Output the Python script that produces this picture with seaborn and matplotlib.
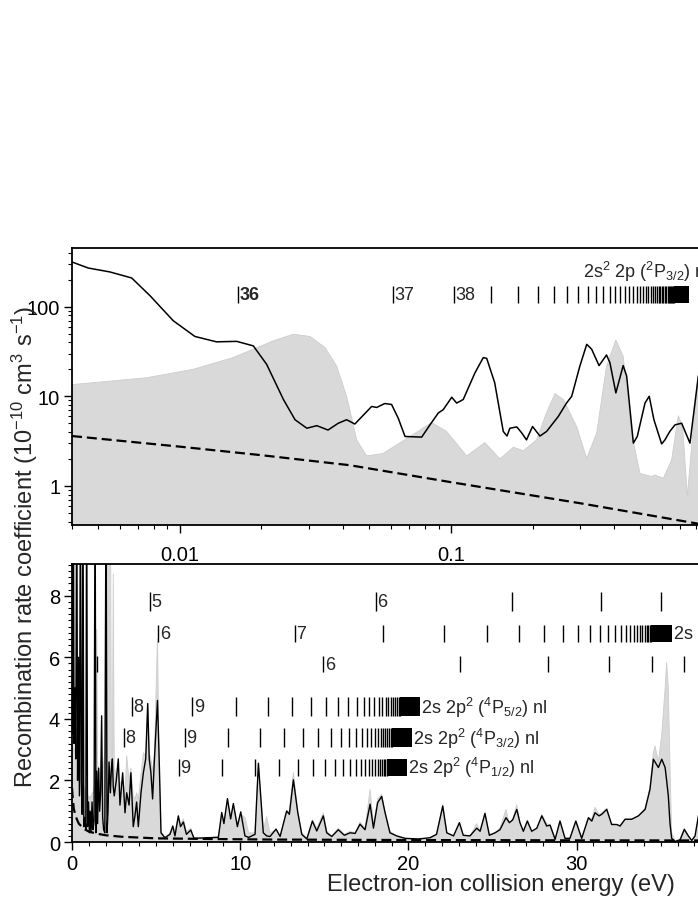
import numpy as np
import pandas as pd
import matplotlib
matplotlib.use("Agg")
import matplotlib.pyplot as plt
import seaborn as sns
from matplotlib.ticker import LogLocator, NullFormatter, MultipleLocator, FuncFormatter, FixedLocator

# ---------------- data: upper panel (log-log, low energies) ----------------
top_E = [0.0040, 0.00459, 0.00552, 0.00664, 0.00775, 0.00945, 0.01136, 0.01365, 0.0162, 0.01866,
         0.0209, 0.0241, 0.0266, 0.0294, 0.0320, 0.0352, 0.0384, 0.0412, 0.0424, 0.0442,
         0.051, 0.0532, 0.057, 0.0604, 0.0639, 0.0677, 0.078, 0.0837, 0.0898, 0.0937,
         0.1007, 0.105, 0.111, 0.1227, 0.1316, 0.1355, 0.145, 0.156, 0.161, 0.165,
         0.175, 0.1825, 0.19, 0.20, 0.213, 0.2254, 0.249, 0.267, 0.279, 0.299,
         0.317, 0.3305, 0.352, 0.375, 0.386, 0.406, 0.432, 0.445, 0.471, 0.487,
         0.52, 0.539, 0.561, 0.599, 0.616, 0.642, 0.671, 0.71, 0.762, 0.818,
         0.9, 1.2, 5.0]
top_exp = [315, 270, 244, 209, 133, 69.7, 46.5, 40.5, 41, 36.5,
           22.7, 9.2, 5.47, 4.4, 4.7, 4.2, 5.0, 5.47, 5.24, 4.9,
           7.7, 7.5, 8.3, 8.1, 5.7, 3.56, 3.5, 4.8, 6.5, 7.1,
           9.75, 8.4, 9.2, 18.3, 27, 26.5, 14.2, 4.05, 3.6, 4.4,
           4.55, 3.9, 3.26, 4.6, 3.6, 4.05, 5.96, 8.4, 10, 21.7,
           38, 33.5, 22, 28.9, 23.7, 10.9, 22, 16.8, 3.0, 3.56,
           8.4, 10, 5.47, 2.94, 3.26, 4.05, 4.8, 5.0, 3.0, 16.8,
           25, 15, 10]

top_th_E = [0.004, 0.00754, 0.0112, 0.0157, 0.0221, 0.0262, 0.0302, 0.0343, 0.0379, 0.0412,
            0.0424, 0.0449, 0.0489, 0.0562, 0.0706, 0.0849, 0.0964, 0.1143, 0.1334, 0.1517,
            0.17, 0.185, 0.207, 0.225, 0.242, 0.26, 0.291, 0.317, 0.345, 0.375,
            0.406, 0.432, 0.464, 0.498, 0.55, 0.565, 0.608, 0.652, 0.69, 0.716,
            0.745, 0.773, 0.818, 0.85, 1.0, 5.0]
top_th = [13.5, 16.1, 20, 27, 41.5, 49.3, 46.5, 35, 21.7, 10,
          7.0, 3.26, 2.16, 2.3, 3.56, 5.1, 4.05, 2.16, 3.04, 2.0,
          2.7, 2.47, 3.26, 6.5, 10.7, 9.2, 4.6, 2.03, 3.9, 21.7,
          42.6, 28, 3.9, 1.38, 1.27, 1.32, 1.22, 1.95, 6.07, 4.6,
          0.77, 2.74, 18, 25, 10, 5]

top_rr_E = [0.004, 0.01, 0.02, 0.0424, 0.1, 0.3, 0.81, 2.0, 5.0]
top_rr = [3.6, 2.74, 2.2, 1.7, 1.1, 0.64, 0.38, 0.22, 0.13]

# ---------------- data: lower panel (linear) ----------------
bot_E = [0.00, 0.04, 0.08, 0.12, 0.17, 0.22, 0.28, 0.33, 0.38, 0.44,
         0.50, 0.55, 0.60, 0.65, 0.70, 0.76, 0.82, 0.87, 0.92, 0.98,
         1.03, 1.08, 1.13, 1.19, 1.25, 1.31, 1.37, 1.42, 1.47, 1.52,
         1.58, 1.64, 1.70, 1.76, 1.82, 1.88, 1.95, 2.02, 2.08, 2.14,
         2.20, 2.28, 2.34, 2.40, 2.45, 2.51, 2.63, 2.75, 2.85, 3.01,
         3.15, 3.25, 3.39, 3.50, 3.64, 3.74, 3.84, 3.94, 4.10, 4.24,
         4.38, 4.50, 4.59, 4.69, 4.79, 4.89, 5.08, 5.18, 5.29, 5.52,
         5.82, 5.99, 6.12, 6.32, 6.45, 6.62, 6.80, 7.06, 7.25, 8.00,
         8.70, 8.90, 9.03, 9.24, 9.43, 9.59, 9.83, 10.03, 10.28, 10.50,
         10.88, 11.08, 11.37, 11.57, 11.77, 12.13, 12.37, 12.76, 12.92, 13.16,
         13.42, 13.66, 13.96, 14.29, 14.55, 14.94, 15.14, 15.44, 15.83, 16.19,
         16.53, 16.83, 17.12, 17.42, 17.72, 17.92, 18.17, 18.41, 18.60, 18.90,
         19.30, 19.80, 20.60, 21.28, 21.67, 22.04, 22.28, 22.68, 23.03, 23.26,
         23.66, 24.06, 24.26, 24.55, 24.81, 25.15, 25.44, 25.80, 26.00, 26.20,
         26.44, 26.63, 26.83, 27.07, 27.33, 27.63, 27.93, 28.22, 28.42, 28.72,
         29.01, 29.31, 29.60, 29.95, 30.30, 30.70, 30.90, 31.09, 31.33, 31.49,
         31.79, 32.08, 32.38, 32.58, 32.88, 33.27, 33.67, 34.07, 34.36, 34.56,
         34.66, 34.86, 35.06, 35.26, 35.35, 35.45, 35.55, 35.65, 35.85, 36.15,
         36.40, 36.64, 36.84, 37.04, 37.24, 37.50, 37.80, 38.50, 40.00, 45.00,
         50.00]
bot_exp = [12, 3.5, 12, 3.2, 5.0, 2.7, 12, 2.0, 6.0, 1.5,
           12, 2.0, 0.9, 12, 0.5, 0.8, 0.4, 12, 0.5, 1.3,
           0.3, 1.0, 0.3, 1.3, 0.4, 0.7, 12, 0.3, 2.3, 0.6,
           2.4, 1.0, 1.6, 4.1, 0.8, 0.4, 0.3, 12, 0.3, 1.0,
           2.6, 1.6, 2.4, 2.7, 1.8, 1.5, 2.0, 2.7, 1.2, 2.25,
           0.95, 1.6, 1.2, 2.25, 0.5, 0.85, 1.3, 0.5, 1.6, 2.25,
           2.7, 4.5, 2.7, 2.25, 1.4, 2.6, 4.6, 2.7, 0.3, 0.14,
           0.25, 0.52, 0.2, 0.85, 0.5, 0.65, 0.25, 0.39, 0.12, 0.14,
           0.15, 0.96, 0.6, 1.41, 0.75, 1.25, 0.5, 0.98, 0.2, 0.15,
           0.25, 2.56, 0.3, 0.2, 0.18, 0.42, 0.18, 1.01, 0.9, 2.02,
           0.96, 0.25, 0.1, 0.68, 0.36, 0.85, 0.3, 0.18, 0.4, 0.22,
           0.3, 0.28, 0.58, 0.4, 1.23, 0.45, 1.28, 1.48, 0.98, 0.3,
           0.2, 0.12, 0.1, 0.14, 0.25, 1.17, 0.3, 0.2, 0.63, 0.22,
           0.2, 0.45, 0.35, 0.93, 0.22, 0.3, 0.4, 0.79, 0.63, 0.72,
           1.06, 0.63, 0.35, 0.68, 0.35, 0.45, 0.85, 0.52, 0.55, 0.09,
           0.68, 0.12, 0.12, 0.68, 0.12, 0.79, 0.68, 0.95, 0.85, 0.9,
           1.06, 0.57, 0.57, 0.52, 0.74, 0.74, 0.85, 1.06, 1.71, 2.69,
           2.6, 2.42, 2.69, 2.42, 2.0, 1.5, 0.6, 0.12, 0.02, 0.07,
           0.41, 0.2, 0.05, 0.2, 0.85, 1.3, 0.5, 0.3, 0.3, 0.2,
           0.2]
bot_th = [3.3, 3.2, 3.1, 3.0, 3.0, 2.9, 2.8, 2.8, 3.0, 2.6,
          2.4, 2.2, 2.0, 2.0, 1.8, 1.7, 1.6, 1.6, 1.5, 1.5,
          1.4, 1.5, 1.4, 1.6, 1.6, 1.8, 2.2, 2.5, 6.9, 2.6,
          2.3, 2.2, 2.6, 2.8, 2.4, 2.5, 3.0, 12, 12, 12,
          12, 12, 3.0, 2.6, 8.7, 2.4, 2.2, 2.3, 1.9, 2.0,
          1.6, 2.8, 2.0, 2.4, 1.5, 1.4, 1.6, 1.4, 2.2, 2.9,
          2.8, 4.4, 2.9, 2.7, 2.3, 2.8, 6.6, 2.6, 0.35, 0.15,
          0.3, 0.45, 0.4, 0.8, 0.6, 0.75, 0.35, 0.45, 0.15, 0.12,
          0.2, 0.85, 0.7, 1.3, 0.9, 1.2, 0.6, 0.9, 0.8, 0.3,
          0.3, 2.5, 0.4, 0.83, 0.3, 0.4, 0.2, 1.0, 1.0, 2.26,
          1.0, 0.3, 0.12, 0.72, 0.45, 0.95, 0.35, 0.2, 0.45, 0.25,
          0.35, 0.3, 0.65, 0.45, 1.71, 0.6, 1.4, 1.55, 1.0, 0.35,
          0.2, 0.12, 0.08, 0.1, 0.25, 1.22, 0.3, 0.2, 0.6, 0.2,
          0.2, 0.6, 0.35, 0.95, 0.25, 0.3, 0.45, 1.06, 0.6, 0.75,
          1.22, 0.6, 0.3, 0.72, 0.3, 0.4, 0.9, 0.6, 0.55, 0.1,
          0.72, 0.12, 0.12, 0.7, 0.15, 0.8, 0.75, 1.13, 0.9, 0.95,
          1.1, 0.6, 0.55, 0.55, 0.75, 0.75, 0.85, 1.1, 1.8, 2.9,
          3.12, 2.6, 3.5, 5.0, 5.83, 5.0, 2.5, 0.3, 0.05, 0.1,
          0.45, 0.2, 0.05, 0.2, 0.85, 1.3, 0.5, 0.3, 0.3, 0.2,
          0.2]
bot_rr_E = [0.0, 0.03, 0.1, 0.2, 0.4, 0.7, 1.0, 1.5, 2.0, 3.0, 5.0, 8.0, 12.0, 20.0, 30.0, 50.0]
bot_rr = [1.75, 1.5, 1.1, 0.85, 0.6, 0.43, 0.34, 0.27, 0.22, 0.17, 0.12, 0.1, 0.08, 0.065, 0.055, 0.045]

# ---------------- Rydberg series markers (resonance positions, eV) ----------------
top_ser_E = [0.0164, 0.0613, 0.1028, 0.1410, 0.1765, 0.2094, 0.2400, 0.2684, 0.2950, 0.3197,
             0.3429, 0.3647, 0.3850, 0.4042, 0.4222, 0.4392, 0.4552, 0.4702, 0.4845, 0.4980,
             0.5108, 0.5229, 0.5344, 0.5453, 0.5557, 0.5655, 0.5749, 0.5839, 0.5924, 0.6005,
             0.6083, 0.6157, 0.6228, 0.6296, 0.6361, 0.6424, 0.6484, 0.6541, 0.6596, 0.6649]
top_ser_lab = ["36", "37", "38"]
top_ser_block = [0.665, 0.757]
top_ser_name = r"2s$^{2}$ 2p ($^{2}$P$_{3/2}$) nl"

row1_E = [4.63, 18.06, 26.16, 31.42, 35.02, 37.60, 39.51, 40.96, 42.09]
row1_lab = ["5", "6"]
row2_E = [5.14, 13.24, 18.50, 22.10, 24.68, 26.59, 28.04, 29.17, 30.06, 30.79,
          31.38, 31.87, 32.28, 32.63, 32.92, 33.18, 33.40, 33.59, 33.76, 33.91,
          34.04, 34.16, 34.27, 34.36, 34.45]
row2_lab = ["6", "7"]
row2_block = [34.45, 35.65]
row2_name = r"2s 2p$^{2}$ ($^{2}$D$_{5/2}$) nl"
row3_E = [1.51, 14.94, 23.04, 28.30, 31.90, 34.48, 36.39, 37.84, 38.97]
row3_lab = [None, "6"]
row4_E = [3.55, 7.15, 9.73, 11.64, 13.09, 14.22, 15.11, 15.84, 16.43, 16.92,
          17.33, 17.68, 17.97, 18.23, 18.45, 18.64, 18.81, 18.96, 19.09, 19.21,
          19.32, 19.41, 19.50]
row4_lab = ["8", "9"]
row4_block = [19.50, 20.69]
row4_name = r"2s 2p$^{2}$ ($^{4}$P$_{5/2}$) nl"
row5_E = [3.09, 6.69, 9.27, 11.18, 12.63, 13.76, 14.65, 15.38, 15.97, 16.46,
          16.87, 17.22, 17.51, 17.77, 17.99, 18.18, 18.35, 18.50, 18.63, 18.75,
          18.86, 18.95, 19.04]
row5_lab = ["8", "9"]
row5_block = [19.04, 20.20]
row5_name = r"2s 2p$^{2}$ ($^{4}$P$_{3/2}$) nl"
row6_E = [6.36, 8.94, 10.85, 12.30, 13.43, 14.32, 15.05, 15.64, 16.13, 16.54,
          16.89, 17.18, 17.44, 17.66, 17.85, 18.02, 18.17, 18.30, 18.42, 18.53,
          18.62, 18.71]
row6_lab = ["9"]
row6_block = [18.71, 19.90]
row6_name = r"2s 2p$^{2}$ ($^{4}$P$_{1/2}$) nl"

# ---------------- style ----------------
sns.set_theme(style="ticks")
plt.rcParams['font.family'] = ['Liberation Sans', 'DejaVu Sans']
plt.rcParams['mathtext.fontset'] = 'custom'
plt.rcParams['mathtext.rm'] = 'Liberation Sans'
plt.rcParams['mathtext.it'] = 'Liberation Sans:italic'
plt.rcParams['mathtext.bf'] = 'Liberation Sans:bold'
plt.rcParams['axes.linewidth'] = 1.3
plt.rcParams['axes.edgecolor'] = 'black'

GRAY = '#d9d9d9'
GRAY_EDGE = '#cdcdcd'
TICK_FS = 14.5
ANN_FS = 13

fig = plt.figure(figsize=(6.98, 9.03), dpi=100)
ax_t = fig.add_axes([0.1032, 0.4175, 1.2049, 0.3068])
ax_b = fig.add_axes([0.1032, 0.0664, 1.2049, 0.3079])

# ---- upper panel ----
df_top = pd.DataFrame({"E": top_E, "rate": top_exp})
ax_t.fill_between(top_th_E, top_th, 1e-3, color=GRAY, edgecolor=GRAY_EDGE, lw=0.6, zorder=1)
sns.lineplot(data=df_top, x="E", y="rate", ax=ax_t, color='black', lw=1.1,
             estimator=None, sort=False, zorder=3)
ax_t.plot(top_rr_E, top_rr, color='black', lw=1.6, ls=(0, (4.5, 2.2)), zorder=4)
ax_t.set_xscale('log')
ax_t.set_yscale('log')
ax_t.set_xlim(0.004, 5.07)
ax_t.set_ylim(0.366, 452)
ax_t.set_xlabel('')
ax_t.set_ylabel('')
ax_t.xaxis.set_major_locator(FixedLocator([0.01, 0.1]))
ax_t.xaxis.set_minor_locator(LogLocator(base=10, subs=np.arange(2, 10)))
ax_t.xaxis.set_major_formatter(FuncFormatter(lambda v, _: f"{v:g}"))
ax_t.xaxis.set_minor_formatter(NullFormatter())
ax_t.yaxis.set_major_locator(FixedLocator([1, 10, 100]))
ax_t.yaxis.set_minor_locator(LogLocator(base=10, subs=np.arange(2, 10)))
ax_t.yaxis.set_major_formatter(FuncFormatter(lambda v, _: f"{v:g}"))
ax_t.yaxis.set_minor_formatter(NullFormatter())

# series markers upper panel
ty0, ty1 = 110, 171.5
tym = np.sqrt(ty0 * ty1)
ax_t.vlines(top_ser_E, ty0, ty1, color='black', lw=1.0, zorder=5)
ax_t.fill_between(top_ser_block, ty0, ty1, color='black', lw=0, zorder=5)
for i, lab in enumerate(top_ser_lab):
    ax_t.annotate(lab, xy=(top_ser_E[i], tym), xytext=(1.0, 0), textcoords='offset points',
                  ha='left', va='center', fontsize=ANN_FS,
                  fontweight='bold' if i == 0 else 'normal')
ax_t.text(0.3076, 250, top_ser_name, ha='left', va='center', fontsize=ANN_FS)

# ---- lower panel ----
df_bot = pd.DataFrame({"E": bot_E, "rate": bot_exp})
ax_b.fill_between(bot_E, bot_th, 0, color=GRAY, edgecolor=GRAY_EDGE, lw=0.6, zorder=1)
sns.lineplot(data=df_bot, x="E", y="rate", ax=ax_b, color='black', lw=1.0,
             estimator=None, sort=False, zorder=3)
ax_b.plot(bot_rr_E, bot_rr, color='black', lw=1.6, ls=(0, (4.5, 2.2)), zorder=4)
ax_b.set_xlim(0, 50)
ax_b.set_ylim(0, 9.03)
ax_b.set_xlabel('')
ax_b.set_ylabel('')
ax_b.xaxis.set_major_locator(MultipleLocator(10))
ax_b.xaxis.set_minor_locator(MultipleLocator(1))
ax_b.yaxis.set_major_locator(MultipleLocator(2))
ax_b.yaxis.set_minor_locator(MultipleLocator(0.2))
ax_b.xaxis.set_major_formatter(FuncFormatter(lambda v, _: f"{v:g}"))
ax_b.yaxis.set_major_formatter(FuncFormatter(lambda v, _: f"{v:g}"))

rows = [
    (row1_E, row1_lab, None, None, 7.51, 8.11),
    (row2_E, row2_lab, row2_block, row2_name, 6.50, 7.05),
    (row3_E, row3_lab, None, None, 5.51, 6.05),
    (row4_E, row4_lab, row4_block, row4_name, 4.10, 4.70),
    (row5_E, row5_lab, row5_block, row5_name, 3.10, 3.69),
    (row6_E, row6_lab, row6_block, row6_name, 2.15, 2.71),
]
for pos, labs, block, name, y0, y1 in rows:
    ym = 0.5 * (y0 + y1)
    ax_b.vlines(pos, y0, y1, color='black', lw=1.0, zorder=5)
    if block is not None:
        ax_b.fill_between(block, y0, y1, color='black', lw=0, zorder=5)
        ax_b.annotate(name, xy=(block[1], ym), xytext=(0.8, 0), textcoords='offset points',
                      ha='left', va='center', fontsize=ANN_FS)
    for i, lab in enumerate(labs):
        if lab:
            ax_b.annotate(lab, xy=(pos[i], ym), xytext=(1.0, 0), textcoords='offset points',
                          ha='left', va='center', fontsize=ANN_FS)

for ax in (ax_t, ax_b):
    for s in ax.spines.values():
        s.set_linewidth(1.3)
        s.set_color('black')
    ax.tick_params(which='major', direction='out', length=5.5, width=1.0,
                   labelsize=TICK_FS, color='black', labelcolor='black', pad=3,
                   bottom=True, left=True, top=False, right=False)
    ax.tick_params(which='minor', direction='out', length=3.0, width=0.8, color='black',
                   bottom=True, left=True, top=False, right=False)
    ax.grid(False)
ax_t.tick_params(axis='x', which='major', pad=9)

fig.text(0.036, 0.394, r"Recombination rate coefficient (10$^{-10}$ cm$^{3}$ s$^{-1}$)",
         rotation=90, ha='center', va='center', fontsize=17)
fig.text(0.718, 0.0199, "Electron-ion collision energy (eV)",
         ha='center', va='center', fontsize=17)

fig.savefig("out.png", dpi=100, facecolor='white')
